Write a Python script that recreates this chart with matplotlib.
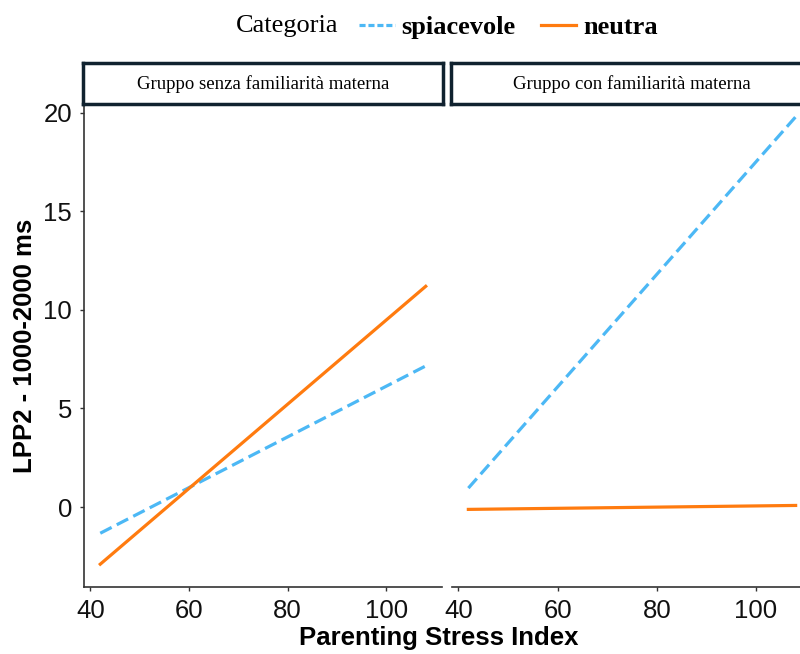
import numpy as np
import matplotlib.pyplot as plt
from matplotlib.lines import Line2D

# fitted lines (endpoints of each regression line)
psi = [42, 108]

senza_spiacevole = [-1.33, 7.16]
senza_neutra = [-2.9, 11.2]

con_spiacevole = [0.96, 19.8]
con_neutra = [-0.12, 0.08]

panel_titles = ["Gruppo senza familiarità materna", "Gruppo con familiarità materna"]
categories = ["spiacevole", "neutra"]
xticks = [40, 60, 80, 100]
yticks = [0, 5, 10, 15, 20]

blue = "#4cb8f5"
orange = "#ff7b0f"
strip_edge = "#10222f"
axis_col = "#333333"

fig = plt.figure(figsize=(8, 6.54), dpi=100)

# panel positions in figure coords (right panel runs past the edge, as cropped in the original)
ax1 = fig.add_axes([0.105, 0.1024, 0.4475, 0.737])
ax2 = fig.add_axes([0.565, 0.1024, 0.45, 0.737])

dash = (4, 1.8)
ax1.plot(psi, senza_spiacevole, color=blue, lw=2.3, ls=(0, dash))
ax1.plot(psi, senza_neutra, color=orange, lw=2.3)
ax2.plot(psi, con_spiacevole, color=blue, lw=2.3, ls=(0, dash))
ax2.plot(psi, con_neutra, color=orange, lw=2.3)

for ax in (ax1, ax2):
    ax.set_xlim(38.7, 111.3)
    ax.set_ylim(-4.06, 20.4)
    ax.set_xticks(xticks)
    ax.set_yticks(yticks)
    ax.spines["top"].set_visible(False)
    ax.spines["right"].set_visible(False)
    ax.spines["bottom"].set_color(axis_col)
    ax.spines["left"].set_color(axis_col)
    ax.spines["bottom"].set_linewidth(1.2)
    ax.spines["left"].set_linewidth(1.2)
    ax.tick_params(length=3, width=1, color=axis_col, labelsize=18.5,
                   labelcolor="#111111", pad=5.5)
    for lab in ax.get_xticklabels() + ax.get_yticklabels():
        lab.set_fontfamily("Liberation Sans")

ax2.spines["left"].set_visible(False)
ax2.tick_params(axis="y", left=False, labelleft=False)

ax1.set_ylabel("LPP2 - 1000-2000 ms", fontsize=18.5, fontweight="bold",
               fontfamily="Liberation Sans")
ax1.yaxis.set_label_coords(-0.13, 0.5)
fig.text(0.549, 0.024, "Parenting Stress Index", fontsize=18.5, fontweight="bold",
         fontfamily="Liberation Sans", ha="center", va="center")

# facet strips
for ax, title in zip((ax1, ax2), panel_titles):
    pos = ax.get_position()
    sx = fig.add_axes([pos.x0 - 0.001, 0.841, pos.width + 0.002, 0.062])
    sx.set_xticks([])
    sx.set_yticks([])
    for s in sx.spines.values():
        s.set_color(strip_edge)
        s.set_linewidth(2.5)
    fig.text((pos.x0 + pos.x1) / 2, 0.871, title, fontsize=13.5,
             fontfamily="Liberation Serif", ha="center", va="center")

# legend at top
fig.text(0.295, 0.960, "Categoria", fontsize=19, fontfamily="Liberation Serif",
         ha="left", va="center")
handles = [Line2D([], [], color=blue, lw=2.3, ls=(0, (1.9, 0.9))),
           Line2D([], [], color=orange, lw=2.3)]
leg = fig.legend(handles, categories, ncol=2, loc="center left",
                 bbox_to_anchor=(0.449, 0.958), frameon=False, handlelength=1.35,
                 columnspacing=0.95, handletextpad=0.25, borderaxespad=0, borderpad=0,
                 prop={"family": "Liberation Serif", "weight": "bold", "size": 19})

fig.savefig("out.png", dpi=100)
